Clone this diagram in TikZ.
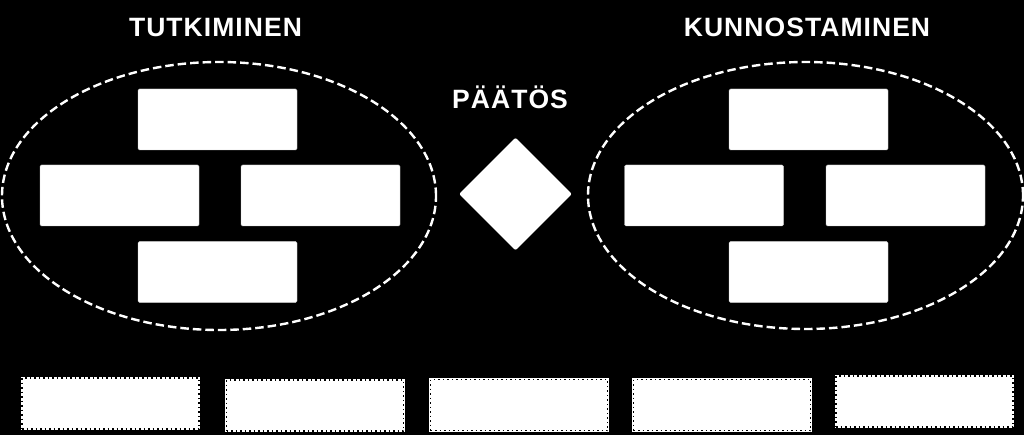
\documentclass[tikz,border=0pt]{standalone}
\usepackage{fontspec}
\setmainfont{Liberation Sans}
\newfontfamily\titlefont[LetterSpace=4]{Liberation Sans}
\usetikzlibrary{shapes.geometric}
\begin{document}
\begin{tikzpicture}[x=1pt,y=-1pt,
  title/.style={text=white,anchor=base,inner sep=0pt,font=\titlefont\fontsize{26.5}{30}\selectfont\bfseries},
  group/.style={draw=white,line width=2.4pt,dash pattern=on 8.5pt off 4pt,ellipse,inner sep=0pt},
  card/.style={fill=white,draw=white!80!black,line width=0.4pt,rounded corners=1.5pt,minimum width=159pt,minimum height=61pt,inner sep=0pt},
  slot/.style={fill=white,draw=black,line width=1.5pt,dash pattern=on 1.5pt off 3pt,minimum width=177pt,minimum height=51pt,inner sep=0pt,
    preaction={draw=white,line width=2.4pt,solid}},
  choice/.style={diamond,fill=white,minimum width=113pt,minimum height=113pt,inner sep=0pt,rounded corners=2pt}
]
\fill[black] (0,0) rectangle (1024,435);
\useasboundingbox (0,0) rectangle (1024,435);

% titles
\node[title] (t1) at (215.5,37) {TUTKIMINEN};
\node[title] (t2) at (807,37) {KUNNOSTAMINEN};
\node[title] (t3) at (510,109) {PÄÄTÖS};

% ellipses
\node[group,minimum width=434pt,minimum height=268pt] (e1) at (219,196) {};
\node[group,minimum width=435pt,minimum height=267pt] (e2) at (805.5,195.5) {};

% left group cards
\node[card] (l1) at (217.5,119.5) {};
\node[card] (l2) at (119.5,195.5) {};
\node[card] (l3) at (320.5,195.5) {};
\node[card] (l4) at (217.5,272) {};

% right group cards
\node[card] (r1) at (808.5,119.5) {};
\node[card] (r2) at (704,195.5) {};
\node[card] (r3) at (905.5,195.5) {};
\node[card] (r4) at (808.5,272) {};

% decision
\node[choice] (d) at (515.5,194) {};

% bottom slots
\node[slot] (s1) at (110.5,403.5) {};
\node[slot] (s2) at (315,405.5) {};
\node[slot] (s3) at (519,405) {};
\node[slot] (s4) at (722,405) {};
\node[slot] (s5) at (924.5,401.5) {};
\end{tikzpicture}
\end{document}
